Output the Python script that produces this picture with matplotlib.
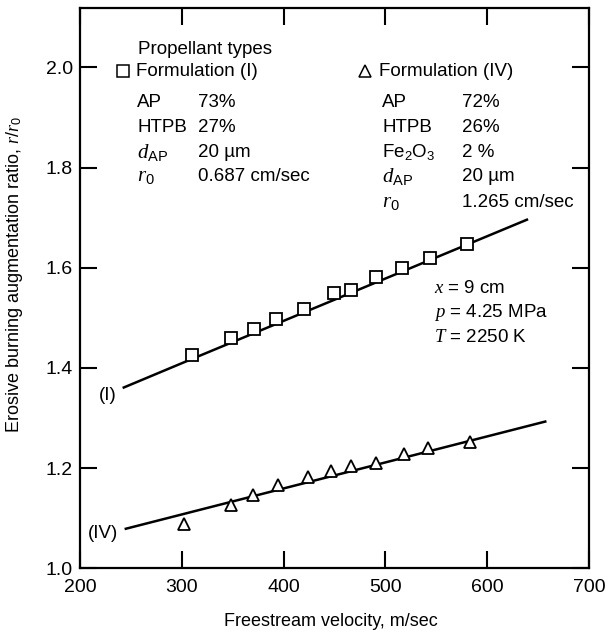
import matplotlib

matplotlib.use("Agg")
import matplotlib.pyplot as plt

plt.rcParams["font.family"] = ["Liberation Sans", "DejaVu Sans"]
plt.rcParams["mathtext.fontset"] = "custom"
plt.rcParams["mathtext.rm"] = "Liberation Sans"
plt.rcParams["mathtext.sf"] = "Liberation Sans"
plt.rcParams["mathtext.it"] = "Liberation Serif:italic"

# Formulation (I): measured points and fitted curve
vel_I = [310, 348, 371, 393, 420, 449, 466, 491, 516, 544, 580]
ratio_I = [1.425, 1.46, 1.478, 1.497, 1.517, 1.55, 1.556, 1.581, 1.60, 1.62, 1.648]
fit_vel_I = [243, 310, 639]
fit_ratio_I = [1.361, 1.418, 1.696]

# Formulation (IV): measured points and fitted line
vel_IV = [302, 348, 370, 394, 424, 447, 466, 491, 518, 542, 583]
ratio_IV = [1.088, 1.127, 1.147, 1.166, 1.183, 1.195, 1.205, 1.21, 1.228, 1.241, 1.252]
fit_vel_IV = [245, 657]
fit_ratio_IV = [1.079, 1.293]

x_ticks = [200, 300, 400, 500, 600, 700]
y_ticks = [1.0, 1.2, 1.4, 1.6, 1.8, 2.0]

left_rows = [("AP", "73%"), ("HTPB", "27%"), (r"$d_{\mathrm{AP}}$", "20 µm"),
             (r"$r_0$", "0.687 cm/sec")]
right_rows = [("AP", "72%"), ("HTPB", "26%"), (r"$\mathrm{Fe_2O_3}$", "2 %"),
              (r"$d_{\mathrm{AP}}$", "20 µm"), (r"$r_0$", "1.265 cm/sec")]
conditions = [r"$x$ = 9 cm", r"$p$ = 4.25 MPa", r"$T$ = 2250 K"]

fig = plt.figure(figsize=(6.08, 6.35), dpi=100)
ax = fig.add_axes([0.1316, 0.105, 0.8372, 0.8819])

ax.plot(fit_vel_I, fit_ratio_I, color="black", lw=1.8, zorder=2)
ax.plot(fit_vel_IV, fit_ratio_IV, color="black", lw=1.8, zorder=2)
ax.plot(vel_I, ratio_I, "s", ms=9, mfc="white", mec="black", mew=1.3, zorder=3)
ax.plot(vel_IV, ratio_IV, "^", ms=9, mfc="white", mec="black", mew=1.3, zorder=3)

ax.set_xlim(200, 700)
ax.set_ylim(1.0, 2.118)
ax.set_xticks(x_ticks)
ax.set_yticks(y_ticks)
ax.set_yticklabels([f"{v:.1f}" for v in y_ticks])
ax.tick_params(direction="in", length=12, width=1.5, labelsize=14,
               top=True, right=True)
ax.tick_params(axis="y", pad=5)
ax.tick_params(axis="x", pad=8)
for sp in ax.spines.values():
    sp.set_linewidth(1.6)

fig.text(0.545, 0.021, "Freestream velocity, m/sec", fontsize=13,
         ha="center", va="center")
fig.text(0.024, 0.567, r"Erosive burning augmentation ratio, $r/r_0$",
         fontsize=13, ha="center", va="center", rotation=90)

tr = ax.transAxes
fs = 13.5
mfs = 15  # rows whose label is an italic math symbol
ax.text(0.114, 0.927, "Propellant types", transform=tr, fontsize=fs, va="center")
ax.plot([0.085], [0.8875], "s", ms=8, mfc="white", mec="black", mew=1.1,
        transform=tr, clip_on=False)
ax.text(0.110, 0.8875, "Formulation (I)", transform=tr, fontsize=fs, va="center")
ax.plot([0.559], [0.8875], "^", ms=8.5, mfc="white", mec="black", mew=1.1,
        transform=tr, clip_on=False)
ax.text(0.588, 0.8875, "Formulation (IV)", transform=tr, fontsize=fs, va="center")

left_y = [0.8327, 0.788, 0.7434, 0.699]
for (lab, val), fy in zip(left_rows, left_y):
    size = mfs if lab.startswith("$") else fs
    ax.text(0.112, fy, lab, transform=tr, fontsize=size, va="center")
    ax.text(0.232, fy, val, transform=tr, fontsize=fs, va="center")

right_y = [0.8327, 0.788, 0.7434, 0.699, 0.654]
for (lab, val), fy in zip(right_rows, right_y):
    size = mfs if lab.startswith("$") and "Fe" not in lab else fs
    ax.text(0.5936, fy, lab, transform=tr, fontsize=size, va="center")
    ax.text(0.751, fy, val, transform=tr, fontsize=fs, va="center")

for txt, fy in zip(conditions, [0.4995, 0.457, 0.413]):
    ax.text(0.6947, fy, txt, transform=tr, fontsize=fs, va="center")

ax.text(0.072, 0.308, "(I)", transform=tr, fontsize=fs, va="center", ha="right")
ax.text(0.075, 0.0625, "(IV)", transform=tr, fontsize=fs, va="center", ha="right")

fig.savefig("out.png", dpi=100, facecolor="white")
